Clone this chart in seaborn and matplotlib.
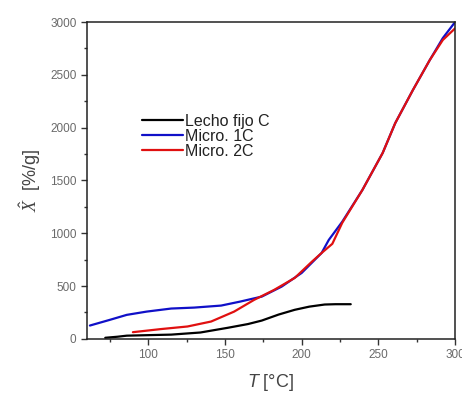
import pandas as pd
import matplotlib
matplotlib.use('Agg')
import matplotlib.pyplot as plt
import seaborn as sns

# Series values
lecho_T = [72, 80, 86, 100, 115, 134, 152, 165, 174, 185, 195.5, 205, 215, 222, 232]
lecho_X = [10, 20, 30, 35, 40, 60, 105, 140, 173, 230, 275, 305, 325, 328, 328]

micro1_T = [62, 75, 86, 99, 115, 130, 147.5, 160, 174, 187, 200, 213, 217.7,
            226.5, 239.6, 252.8, 261, 272.5, 283.5, 292, 300]
micro1_X = [126, 180, 227, 258, 287, 296, 315, 353, 400, 495, 624, 813, 937,
            1110, 1410, 1760, 2043, 2356, 2640, 2848, 3000]

micro2_T = [90, 108, 125.6, 141, 156, 169, 182, 195.5, 206.7, 213, 220,
            226.5, 239.6, 252.8, 261, 272.5, 283.5, 292, 300]
micro2_X = [63, 92, 117, 164, 258, 369, 463, 577, 731, 813, 900,
            1100, 1410, 1760, 2043, 2356, 2640, 2830, 2940]

labels = ['Lecho fijo C', 'Micro. 1C', 'Micro. 2C']
colors = ['#000000', '#1010c8', '#e01010']

x_ticks = [100, 150, 200, 250, 300]
y_ticks = [0, 500, 1000, 1500, 2000, 2500, 3000]

df = pd.concat([
    pd.DataFrame({'T': lecho_T, 'X': lecho_X, 'serie': labels[0]}),
    pd.DataFrame({'T': micro1_T, 'X': micro1_X, 'serie': labels[1]}),
    pd.DataFrame({'T': micro2_T, 'X': micro2_X, 'serie': labels[2]}),
])

sns.set_style('white')
plt.rcParams['font.family'] = ['Liberation Sans', 'DejaVu Sans']
plt.rcParams['mathtext.fontset'] = 'custom'
plt.rcParams['mathtext.it'] = 'Liberation Sans:italic'
plt.rcParams['mathtext.rm'] = 'Liberation Sans'
plt.rcParams['mathtext.cal'] = 'Liberation Serif:italic'

fig = plt.figure(figsize=(4.62, 3.94), dpi=100)
ax = fig.add_axes([0.188, 0.140, 0.797, 0.804])

sns.lineplot(data=df, x='T', y='X', hue='serie', palette=dict(zip(labels, colors)),
             sort=False, linewidth=1.6, ax=ax)

ax.set_xlim(60, 300)
ax.set_ylim(0, 3000)
ax.set_xticks(x_ticks)
ax.set_yticks(y_ticks)
ax.set_xticks([75, 125, 175, 225, 275], minor=True)
ax.set_yticks([250, 750, 1250, 1750, 2250, 2750], minor=True)
ax.tick_params(axis='both', which='major', direction='out', length=4, width=1,
               labelsize=8.5, labelcolor='#6a6a6a', color='#333333', bottom=True, left=True)
ax.tick_params(axis='both', which='minor', direction='out', length=2.5, width=1,
               color='#333333', bottom=True, left=True)
for s in ax.spines.values():
    s.set_color('#222222')
    s.set_linewidth(1.1)

ax.set_xlabel(r'$T$ [°C]', fontsize=13, color='#444444', labelpad=8)
ax.set_ylabel(r'$\hat{\mathcal{X}}$  [%/g]', fontsize=13, color='#444444', labelpad=5)

leg = ax.legend(loc='center left', bbox_to_anchor=(0.11, 0.64), frameon=False,
                fontsize=11.5, handlelength=2.6, handletextpad=0.1, labelspacing=0.0)
for t in leg.get_texts():
    t.set_color('#222222')

fig.savefig('out.png', dpi=100)
